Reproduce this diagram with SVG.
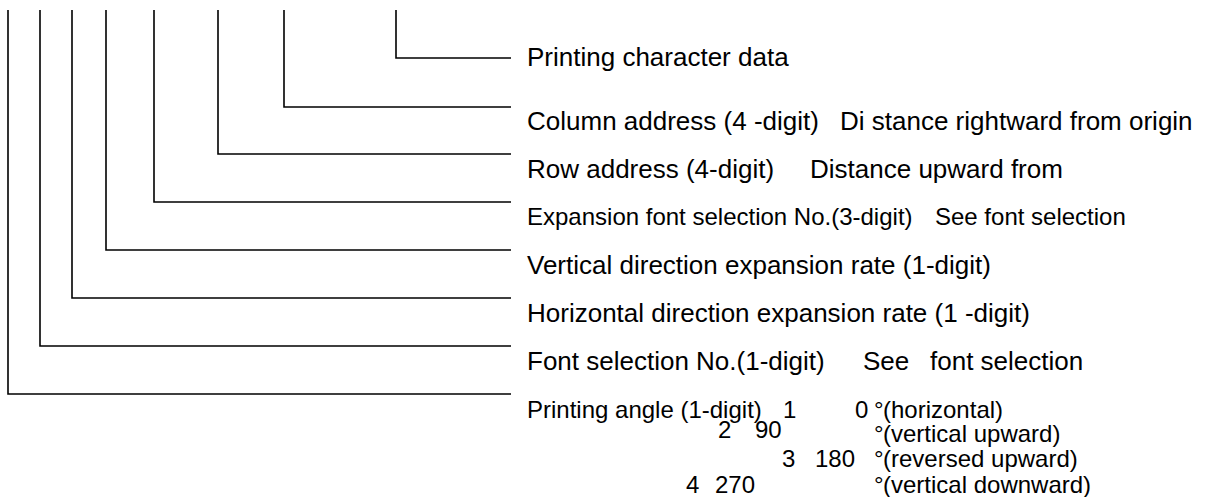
<svg xmlns="http://www.w3.org/2000/svg" width="1222" height="497" viewBox="0 0 1222 497">
<style>
.c{fill:none;stroke:#000;stroke-width:1.6}
text{font-family:"Liberation Sans",Arial,sans-serif;fill:#000}
.m{font-size:26px}
.s{font-size:24px}
</style>
<rect width="1222" height="497" fill="#fff"/>
<g id="connectors">
<polyline class="c" points="396,10 396,58 511,58"/>
<polyline class="c" points="284,10 284,107 511,107"/>
<polyline class="c" points="218,10 218,154 511,154"/>
<polyline class="c" points="154,10 154,202 511,202"/>
<polyline class="c" points="106,10 106,250 511,250"/>
<polyline class="c" points="72,10 72,298 511,298"/>
<polyline class="c" points="40,10 40,346 511,346"/>
<polyline class="c" points="8,10 8,394 511,394"/>
</g>
<g id="printing-character-data"><text class="m" x="527" y="66">Printing character data</text></g>
<g id="column-address"><text class="m" x="527" y="130">Column address (4 -digit)</text><text class="m" x="840" y="130">Di stance rightward from origin</text></g>
<g id="row-address"><text class="m" x="527" y="178">Row address (4-digit)</text><text class="m" x="810" y="178">Distance upward from</text></g>
<g id="expansion-font"><text class="s" x="527" y="225">Expansion font selection No.(3-digit)</text><text class="s" x="935" y="225">See font selection</text></g>
<g id="vertical-rate"><text class="m" x="527" y="274">Vertical direction expansion rate (1-digit)</text></g>
<g id="horizontal-rate"><text class="m" x="527" y="322">Horizontal direction expansion rate (1 -digit)</text></g>
<g id="font-selection"><text class="m" x="527" y="370">Font selection No.(1-digit)</text><text class="m" x="863" y="370">See</text><text class="m" x="930" y="370">font selection</text></g>
<g id="printing-angle">
<text class="s" x="527" y="418">Printing angle (1-digit)</text>
<text class="s" x="783" y="418">1</text>
<text class="s" x="855" y="418">0</text>
<text class="s" x="874" y="418">°</text>
<text class="s" x="883" y="418">(horizontal)</text>
<text class="s" x="718" y="438">2</text>
<text class="s" x="755" y="438">90</text>
<text class="s" x="874" y="442">°</text>
<text class="s" x="883" y="442">(vertical upward)</text>
<text class="s" x="782" y="467">3</text>
<text class="s" x="815" y="467">180</text>
<text class="s" x="874" y="467">°</text>
<text class="s" x="883" y="467">(reversed upward)</text>
<text class="s" x="686" y="493">4</text>
<text class="s" x="715" y="493">270</text>
<text class="s" x="874" y="493">°</text>
<text class="s" x="883" y="493">(vertical downward)</text>
</g>
</svg>
